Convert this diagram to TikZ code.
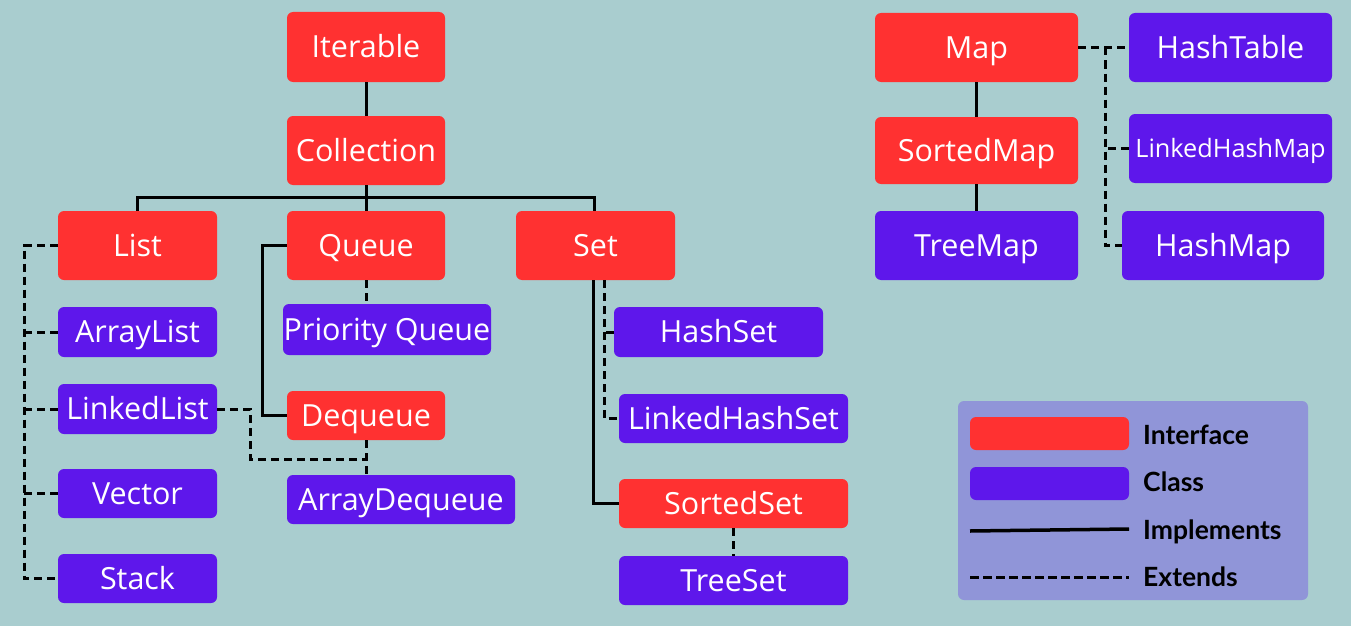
\documentclass[tikz,border=0pt]{standalone}
\usepackage{fontspec}
\setmainfont{Open Sans}
\newfontfamily\legfont{Lato}
\usetikzlibrary{calc}
\definecolor{bgc}{RGB}{169,205,207}
\definecolor{ifc}{RGB}{255,49,49}
\definecolor{clc}{RGB}{94,23,235}
\definecolor{lgc}{RGB}{144,149,216}
\tikzset{
  box/.style={rounded corners=6pt, inner sep=0pt, text=white,
    font=\fontsize{30.5}{36}\selectfont, text height=21.8pt, text depth=0pt},
  iface/.style={box, fill=ifc},
  cls/.style={box, fill=clc},
  impl/.style={draw=black, line width=3pt},
  ext/.style={draw=black, line width=3pt, dash pattern=on 8pt off 5pt},
  leg/.style={anchor=west, inner sep=0pt, font=\legfont\bfseries\fontsize{26.5}{31}\selectfont, text height=19pt, text depth=0pt}
}
\begin{document}
\begin{tikzpicture}[x=1pt,y=-1pt]
\fill[bgc] (0,0) rectangle (1351,626);
\useasboundingbox (0,0) rectangle (1351,626);
% collection hierarchy
\node[iface, minimum width=158, minimum height=70] (iter) at (366,47) {Iterable};
\node[iface, minimum width=158, minimum height=69] (coll) at (366,150.5) {Collection};
\node[iface, minimum width=159, minimum height=69] (list) at (137.5,245.5) {List};
\node[iface, minimum width=158, minimum height=69] (queue) at (366,245.5) {Queue};
\node[iface, minimum width=159, minimum height=69] (set) at (595.5,245.5) {Set};
\node[cls, minimum width=159, minimum height=50] (alist) at (137.5,332) {ArrayList};
\node[cls, minimum width=159, minimum height=50] (llist) at (137.5,409) {LinkedList};
\node[cls, minimum width=159, minimum height=49] (vector) at (137.5,493.5) {Vector};
\node[cls, minimum width=159, minimum height=49] (stack) at (137.5,578.5) {Stack};
\node[cls, minimum width=208, minimum height=51] (pq) at (387,329.5) {Priority Queue};
\node[iface, minimum width=158, minimum height=49] (deq) at (366,415.5) {Dequeue};
\node[cls, minimum width=228, minimum height=49] (adeq) at (401,499.5) {ArrayDequeue};
\node[cls, minimum width=209, minimum height=50] (hset) at (718.5,332) {HashSet};
\node[cls, minimum width=229, minimum height=49] (lhset) at (733.5,418.5) {LinkedHashSet};
\node[iface, minimum width=229, minimum height=49] (sset) at (733.5,503.5) {SortedSet};
\node[cls, minimum width=229, minimum height=49] (tset) at (733.5,580.5) {TreeSet};
% map hierarchy
\node[iface, minimum width=203, minimum height=69] (map) at (976.5,47.5) {Map};
\node[iface, minimum width=203, minimum height=67] (smap) at (976.5,150.5) {SortedMap};
\node[cls, minimum width=203, minimum height=69] (tmap) at (976.5,245.5) {TreeMap};
\node[cls, minimum width=203, minimum height=69] (htab) at (1230.5,47.5) {HashTable};
\node[cls, minimum width=203, minimum height=69, font=\fontsize{25.3}{30}\selectfont, text height=18pt] (lhmap) at (1230.5,148.5) {LinkedHashMap};
\node[cls, minimum width=202, minimum height=69] (hmap) at (1223,245.5) {HashMap};
% helper coordinates
\coordinate (bus) at (366,197);
\coordinate (lx) at (24,245.5);
\coordinate (dj) at (366,459);
\coordinate (mx) at (1105,47.5);
\coordinate (sd) at ([xshift=8.5pt]set.south);
\coordinate (ss) at ([xshift=-2.5pt]set.south);
% connectors
\draw[impl] (iter) -- (coll);
\draw[impl] (coll) -- (queue);
\draw[impl] (list.north) |- (bus) -| ([xshift=-1.5pt]set.north);
\draw[impl] (queue.west) -- ++(-24,0) |- (deq.west);
\draw[ext] (queue.south) -- (queue.south |- pq.north);
\draw[ext] (list.west) -- (lx) |- (stack.west);
\draw[ext] (alist.west) -- (alist.west -| lx);
\draw[ext] (llist.west) -- (llist.west -| lx);
\draw[ext] (vector.west) -- (vector.west -| lx);
\draw[ext] (deq.south) -- (deq.south |- adeq.north);
\draw[ext] (llist.east) -- ++(33,0) |- (dj);
\draw[impl] (ss) |- (sset.west);
\draw[ext] (sd) |- (lhset.west);
\draw[ext] (hset.west) -- (hset.west -| sd);
\draw[ext] (sset.south) -- (tset.north);
\draw[impl] (map) -- (smap);
\draw[impl] (smap) -- (tmap);
\draw[ext] (map.east) -- (htab.west);
\draw[ext] (mx) |- (hmap.west);
\draw[ext] (lhmap.west) -- (lhmap.west -| mx);
% legend
\fill[lgc, rounded corners=6pt] (958,401) rectangle (1308,600);
\node[fill=ifc, rounded corners=6pt, minimum width=159, minimum height=33, inner sep=0pt] (sw1) at (1049.5,433.5) {};
\node[fill=clc, rounded corners=6pt, minimum width=159, minimum height=33, inner sep=0pt] (sw2) at (1049.5,483.5) {};
\coordinate (l1a) at (970,531);
\coordinate (l1b) at (1129,529);
\coordinate (l2a) at (970,577);
\coordinate (l2b) at (1129,577);
\draw[draw=black, line width=3.5pt] (l1a) -- (l1b);
\draw[draw=black, line width=3pt, dash pattern=on 9pt off 4pt] (l2a) -- (l2b);
\node[leg] (t1) at (1143,435) {Interface};
\node[leg] (t2) at (1143,482) {Class};
\node[leg] (t3) at (1143,530) {Implements};
\node[leg] (t4) at (1143,577) {Extends};
\end{tikzpicture}
\end{document}
